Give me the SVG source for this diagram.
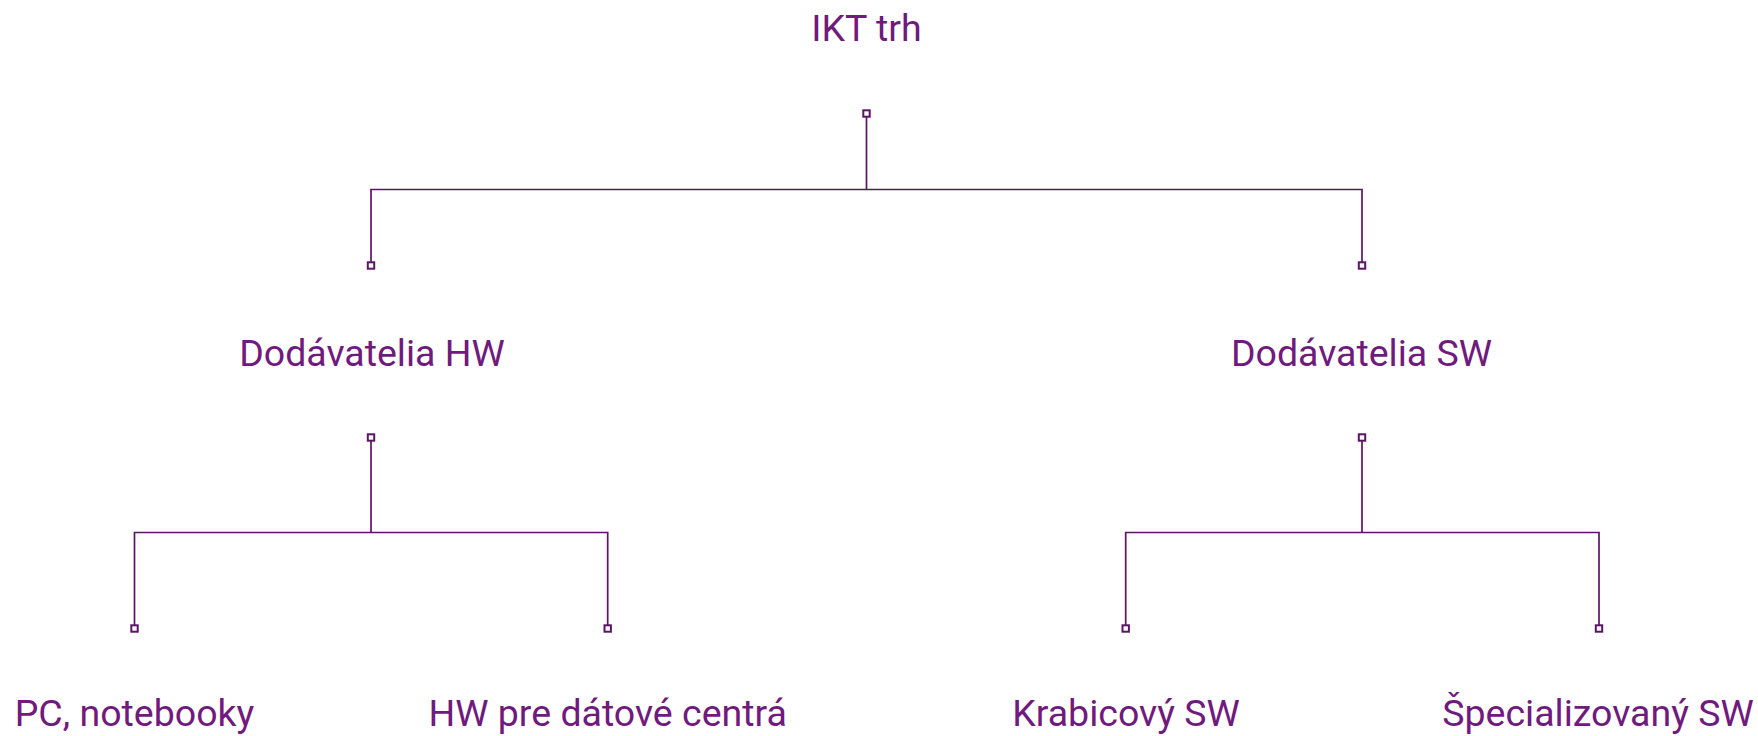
<svg xmlns="http://www.w3.org/2000/svg" width="1758" height="736" viewBox="0 0 1758 736">
<style>
.lbl{font-family:Roboto,"Liberation Sans",sans-serif;font-size:37.5px;fill:#701a7e;text-anchor:middle}
.ln{fill:none;stroke:#5c1466;stroke-width:1.7}
.sq{fill:#fff;stroke:#5c1466;stroke-width:2}
</style>
<rect width="1758" height="736" fill="#fff"/>
<g id="connectors">
<path class="ln" d="M866.5 117 V189.5 M371 262 V189.5 H1362 V262"/>
<path class="ln" d="M371 441 V532.5 M134.5 625 V532.5 H607.7 V625"/>
<path class="ln" d="M1362 441 V532.5 M1125.7 625 V532.5 H1599 V625"/>
<rect class="sq" x="863.3" y="110.3" width="6.4" height="6.4"/>
<rect class="sq" x="367.8" y="262.3" width="6.4" height="6.4"/>
<rect class="sq" x="1358.8" y="262.3" width="6.4" height="6.4"/>
<rect class="sq" x="367.8" y="434.3" width="6.4" height="6.4"/>
<rect class="sq" x="1358.8" y="434.3" width="6.4" height="6.4"/>
<rect class="sq" x="131.3" y="625.3" width="6.4" height="6.4"/>
<rect class="sq" x="604.5" y="625.3" width="6.4" height="6.4"/>
<rect class="sq" x="1122.5" y="625.3" width="6.4" height="6.4"/>
<rect class="sq" x="1595.8" y="625.3" width="6.4" height="6.4"/>
</g>
<g id="root"><text class="lbl" x="866.5" y="40.7">IKT trh</text></g>
<g id="hw"><text class="lbl" x="372" y="365.7">Dodávatelia HW</text></g>
<g id="sw"><text class="lbl" x="1361.5" y="365.7">Dodávatelia SW</text></g>
<g id="pc"><text class="lbl" x="134.5" y="725.7">PC, notebooky</text></g>
<g id="dc"><text class="lbl" x="607.7" y="725.7">HW pre dátové centrá</text></g>
<g id="box"><text class="lbl" x="1126" y="725.7">Krabicový SW</text></g>
<g id="spec"><text class="lbl" x="1598" y="725.7">Špecializovaný SW</text></g>
</svg>
